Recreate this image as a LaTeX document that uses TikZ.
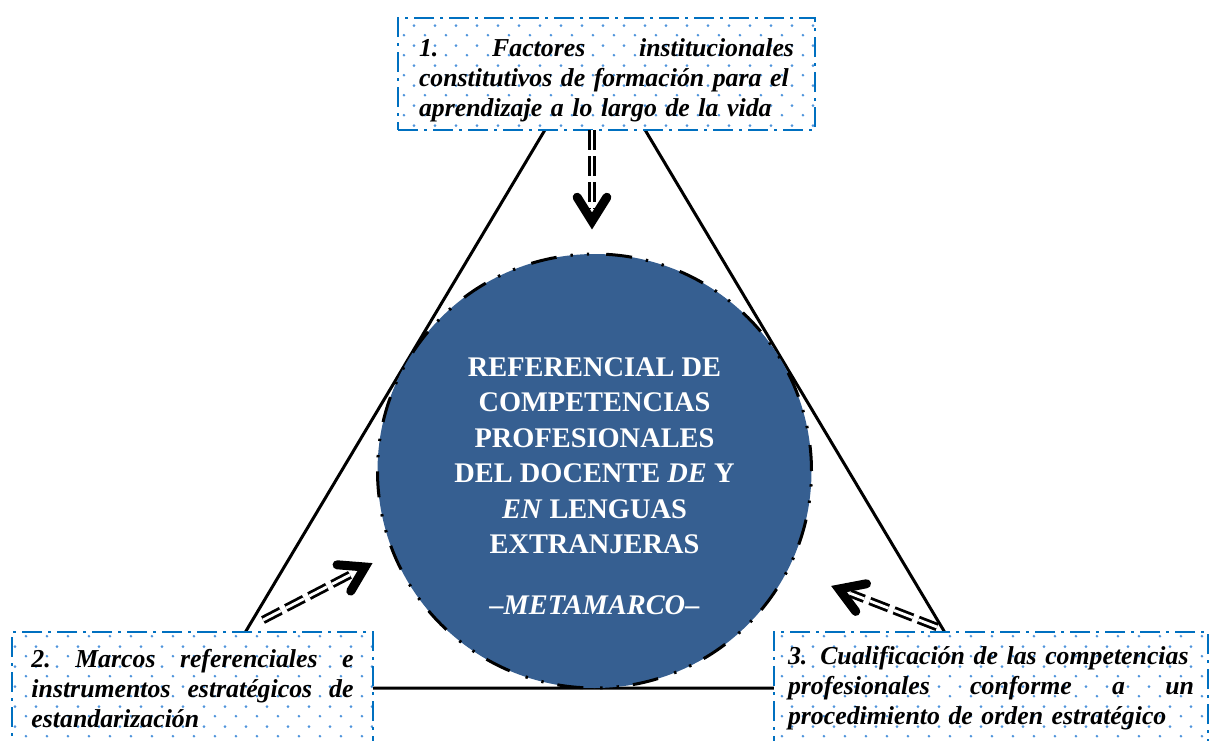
\documentclass[tikz,border=0pt]{standalone}
\usepackage{fontspec}
\setmainfont{Liberation Serif}
\usepackage{tikz}
\usetikzlibrary{calc, patterns.meta}
\definecolor{hubblue}{HTML}{365F91}
\definecolor{frameblue}{HTML}{0070C0}
\definecolor{dotblue}{HTML}{4F94DC}
\pgfdeclarepattern{name=bluedots, type=uncolored,
  bottom left={\pgfpoint{0pt}{0pt}}, top right={\pgfpoint{10.5pt}{10pt}},
  tile size={\pgfpoint{10.5pt}{10pt}},
  code={\pgfpathcircle{\pgfpoint{2.6pt}{2.5pt}}{0.75pt}
        \pgfpathcircle{\pgfpoint{7.85pt}{7.5pt}}{0.75pt}
        \pgfusepath{fill}}}
\tikzstyle{factor} = [rectangle, draw=frameblue, line width=1pt, dash pattern=on 10pt off 3pt on 1.5pt off 3pt, preaction={fill=white}, pattern=bluedots, pattern color=dotblue, align=left, font=\bfseries\itshape\fontsize{12.9}{15}\selectfont]
\tikzstyle{hubdisc} = [circle, fill=hubblue, draw=black, line width=1.5pt, dash pattern=on 13pt off 8.5pt on 1.2pt off 7pt on 1.2pt off 7pt, minimum size=217pt, inner sep=0pt]
\tikzstyle{hubtext} = [text=white, align=center, font=\bfseries\fontsize{14.2}{17.75}\selectfont]
\tikzstyle{side} = [black, line width=1.5pt]
\tikzstyle{shaft} = [draw=black, line width=1.4pt, double=white, double distance=1.4pt, dash pattern=on 10pt off 3pt]
\tikzstyle{head} = [black, line width=4.5pt, line cap=round, line join=miter]

\begin{document}
\begin{tikzpicture}[x=0.5pt, y=-0.5pt]
\useasboundingbox (0,0) rectangle (1211,740);
\clip (0,0) rectangle (1211,740);

% Triangulo
\coordinate (apex) at (595,46);
\coordinate (baseleft) at (212,688);
\coordinate (baseright) at (978,688);
\draw [side] (apex) -- (baseleft) -- (baseright) -- cycle;

% Circulo central
\node (hub) [hubdisc] at (594.5,471) {};
\node (hubtext) [hubtext] at (594.5,486) {REFERENCIAL DE\\ COMPETENCIAS\\ PROFESIONALES\\ DEL DOCENTE \textit{DE} Y\\ \textit{EN} LENGUAS\\ EXTRANJERAS\\[12.75pt] \textit{--METAMARCO--}};

% Cajas de factores
\node (box1) [factor, text width=187.5pt, inner xsep=10.5pt, minimum height=56pt] at (606.5,74) {\rule{0pt}{15.6pt}1.\hfill Factores\hfill institucionales\\ \mbox{constitutivos de formación para el}\\ \mbox{aprendizaje a lo largo de la vida}};
\node (box2) [factor, text width=161pt, inner xsep=9.75pt, minimum height=56.5pt] at (192.5,688.5) {2.\hfill Marcos\hfill referenciales\hfill e\\ instrumentos\hfill estratégicos\hfill de\\ \mbox{estandarización}};
\node (box3) [factor, text width=203pt, inner xsep=7pt, minimum height=56.5pt] at (991,688.5) {\mbox{3. Cualificación de las competencias}\\ profesionales\hfill conforme\hfill a\hfill un\\ \mbox{procedimiento de orden estratégico}};

% Flechas
\coordinate (a1s) at (592,130);
\coordinate (a1t) at (592,221);
\coordinate (a2s) at (263,620);
\coordinate (a2t) at (365,567);
\coordinate (a3s) at (937,627);
\coordinate (a3t) at (839,589);
\draw [shaft] (a1s) -- ($(a1t)!6pt!(a1s)$);
\draw [head] ($(a1t)!14pt!32:(a1s)$) -- (a1t) -- ($(a1t)!14pt!-32:(a1s)$);
\draw [shaft] (a2s) -- ($(a2t)!6pt!(a2s)$);
\draw [head] ($(a2t)!14pt!32:(a2s)$) -- (a2t) -- ($(a2t)!14pt!-32:(a2s)$);
\draw [shaft] (a3s) -- ($(a3t)!6pt!(a3s)$);
\draw [head] ($(a3t)!14pt!32:(a3s)$) -- (a3t) -- ($(a3t)!14pt!-32:(a3s)$);
\end{tikzpicture}
\end{document}
